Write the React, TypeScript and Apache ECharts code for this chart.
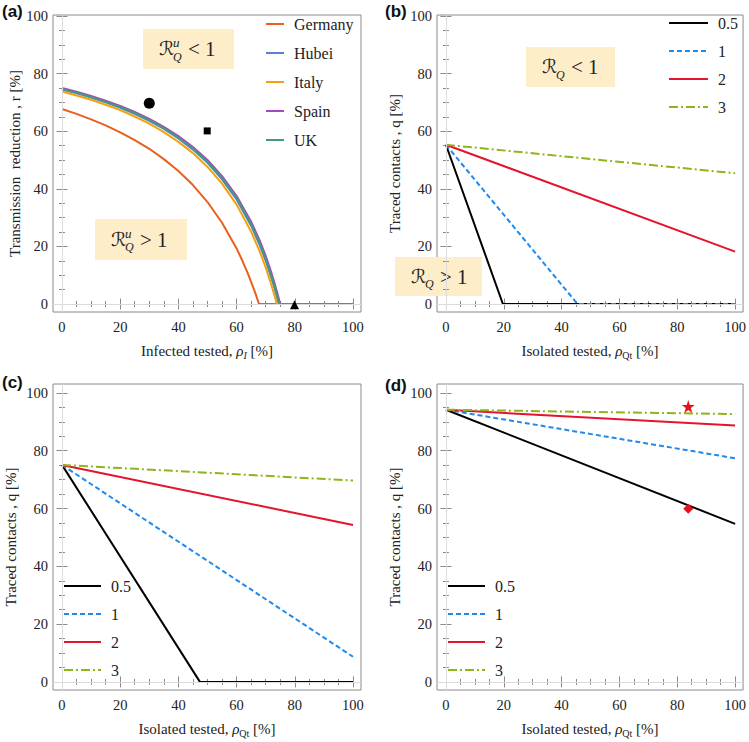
import React, { useEffect, useRef } from 'react';
import * as echarts from 'echarts';

// ---------- tick values ----------
const MAJOR = [0, 20, 40, 60, 80, 100];
const MINOR = [5, 10, 15, 25, 30, 35, 45, 50, 55, 65, 70, 75, 85, 90, 95];

// ---------- panel (a): transmission reduction vs infected tested ----------
const COUNTRIES = ['Germany', 'Hubei', 'Italy', 'Spain', 'UK'];
const germanyX = [0, 5, 10, 15, 20, 25, 30, 35, 40, 45, 50, 55, 60, 62, 64, 66, 67, 67.7, 100];
const germanyY = [67.7, 66.0, 64.1, 62.0, 59.6, 56.9, 53.9, 50.3, 46.2, 41.3, 35.4, 28.2, 19.3, 15.0, 10.3, 5.0, 2.1, 0, 0];
const hubeiX = [0, 5, 10, 15, 20, 25, 30, 35, 40, 45, 50, 55, 60, 65, 68, 70, 72, 73, 74, 74.5, 100];
const hubeiY = [74.5, 73.2, 71.7, 70.0, 68.1, 66.0, 63.6, 60.8, 57.5, 53.6, 49.0, 43.3, 36.3, 27.1, 20.3, 15.0, 8.9, 5.6, 1.9, 0, 0];
const italyX = [0, 5, 10, 15, 20, 25, 30, 35, 40, 45, 50, 55, 60, 65, 68, 70, 72, 73, 73.8, 100];
const italyY = [73.8, 72.4, 70.9, 69.2, 67.3, 65.1, 62.6, 59.7, 56.3, 52.4, 47.6, 41.8, 34.5, 25.1, 18.1, 12.7, 6.4, 3.0, 0, 0];
const spainX = [0, 5, 10, 15, 20, 25, 30, 35, 40, 45, 50, 55, 60, 65, 68, 70, 72, 73, 74, 75, 100];
const spainY = [75.0, 73.7, 72.2, 70.6, 68.8, 66.7, 64.3, 61.5, 58.3, 54.5, 50.0, 44.4, 37.5, 28.6, 21.9, 16.7, 10.7, 7.4, 3.8, 0, 0];
const ukX = [0, 5, 10, 15, 20, 25, 30, 35, 40, 45, 50, 55, 60, 65, 68, 70, 72, 73, 74, 74.7, 100];
const ukY = [74.7, 73.4, 71.9, 70.2, 68.4, 66.3, 63.9, 61.1, 57.8, 54.0, 49.4, 43.8, 36.8, 27.7, 20.9, 15.7, 9.6, 6.3, 2.7, 0, 0];
const markerCircle = [30, 69.7];
const markerSquare = [49.9, 60.1];
const markerTriangle = [79.9, -0.3];

// ---------- panels (b)-(d): traced contacts vs isolated tested ----------
const PARAMS = ['0.5', '1', '2', '3'];
const b05 = [[0, 55.3], [19.7, 0], [100, 0]];
const b1 = [[0, 55.3], [45.5, 0], [100, 0]];
const b2 = [[0, 55.3], [100, 18.2]];
const b3 = [[0, 55.3], [100, 45.4]];
const c05 = [[0, 75.1], [47.4, 0], [100, 0]];
const c1 = [[0, 75.1], [100, 8.7]];
const c2 = [[0, 75.1], [100, 54.3]];
const c3 = [[0, 75.1], [100, 69.7]];
const d05 = [[0, 94.2], [100, 54.7]];
const d1 = [[0, 94.2], [100, 77.4]];
const d2 = [[0, 94.2], [100, 88.7]];
const d3 = [[0, 94.2], [100, 92.7]];
const markerStar = [83.8, 95.3];
const markerDiamond = [83.8, 59.9];

// ---------- styling ----------
const SERIF = '"Liberation Serif", "Times New Roman", serif';
const SANS = '"Liberation Sans", Arial, sans-serif';
const SCRIPT = '"DejaVu Sans", "Noto Sans", sans-serif';
const INK = '#222';
const FRAME = '#8a8a8a';
const BOX = '#FDEDC9';
const COUNTRY_COLORS = ['#E8601C', '#5E7ED4', '#F2A20C', '#A848C0', '#449B7B'];
const PARAM_COLORS = ['#000000', '#1F8AEE', '#E4142C', '#8DB51C'];
const PARAM_DASH: any[] = ['solid', [5, 3], 'solid', [9, 3, 2, 3]];

const X_MIN = -3.09;
const X_MAX = 102.75;
const GRIDS = [
  { left: 53, top: 15, width: 308, height: 297, yMin: -2.78, yMax: 100.35, yGap: 29 },
  { left: 437, top: 15, width: 308, height: 297, yMin: -2.78, yMax: 100.35, yGap: 35 },
  { left: 53, top: 384, width: 308, height: 306, yMin: -2.8, yMax: 103.1, yGap: 35 },
  { left: 437, top: 384, width: 308, height: 306, yMin: -2.8, yMax: 103.1, yGap: 35 },
];

const zip = (xs: number[], ys: number[]) => xs.map((x, i) => [x, ys[i]]);

function sideAxes(gi: number, dim: 'x' | 'y', minV: number, maxV: number, name: string, nameGap: number, nameStyle: any) {
  const positions = dim === 'x' ? ['bottom', 'top'] : ['left', 'right'];
  const out: any[] = [];
  positions.forEach((pos, pi) => {
    [MAJOR, MINOR].forEach((vals, mi) => {
      const isMain = pi === 0 && mi === 0;
      out.push({
        type: 'value',
        gridIndex: gi,
        position: pos,
        min: minV,
        max: maxV,
        splitLine: { show: false },
        axisLine: { show: false },
        axisTick: {
          show: true,
          inside: true,
          length: mi === 0 ? 5.5 : 3,
          customValues: vals,
          lineStyle: { color: FRAME, width: 1 },
        },
        axisLabel: isMain
          ? {
              show: true,
              customValues: MAJOR,
              margin: dim === 'x' ? 7 : 5,
              fontFamily: SERIF,
              fontSize: 14.5,
              color: INK,
            }
          : { show: false },
        name: isMain ? name : '',
        nameLocation: 'middle',
        nameGap,
        nameTextStyle: nameStyle,
      });
    });
  });
  return out;
}

const xNameStyle = {
  fontFamily: SERIF,
  fontSize: 15,
  color: INK,
  lineHeight: 18,
  rich: {
    g: { fontFamily: SERIF, fontSize: 15, fontStyle: 'italic', color: INK, lineHeight: 18 },
    s: { fontFamily: SERIF, fontSize: 10, color: INK, lineHeight: 8, verticalAlign: 'bottom' },
    si: { fontFamily: SERIF, fontSize: 10, fontStyle: 'italic', color: INK, lineHeight: 8, verticalAlign: 'bottom' },
  },
};
const yNameStyle = { fontFamily: SERIF, fontSize: 15, color: INK };

function rBox(left: number, top: number, w: number, h: number, withU: boolean, op: string) {
  const cy = top + h / 2;
  const x0 = left + 16;
  const kids: any[] = [
    { type: 'rect', shape: { x: left, y: top, width: w, height: h }, style: { fill: BOX } },
    {
      type: 'text',
      x: x0,
      y: cy - 1,
      style: { text: '\u211B', fontFamily: SCRIPT, fontSize: 19, fill: INK, align: 'left', verticalAlign: 'middle' },
    },
    {
      type: 'text',
      x: x0 + 14,
      y: cy + 7.5,
      style: { text: 'Q', fontFamily: SERIF, fontStyle: 'italic', fontSize: 12, fill: INK, align: 'left', verticalAlign: 'middle' },
    },
  ];
  if (withU) {
    kids.push({
      type: 'text',
      x: x0 + 14,
      y: cy - 6.5,
      style: { text: 'u', fontFamily: SERIF, fontStyle: 'italic', fontSize: 13, fill: INK, align: 'left', verticalAlign: 'middle' },
    });
  }
  kids.push({
    type: 'text',
    x: x0 + 29,
    y: cy,
    style: { text: op + ' 1', fontFamily: SERIF, fontSize: 21, fill: INK, align: 'left', verticalAlign: 'middle' },
  });
  return { type: 'group', z: 50, children: kids };
}

function panelLabel(text: string, x: number, y: number) {
  return {
    type: 'text',
    x,
    y,
    z: 50,
    style: { text, fontFamily: SANS, fontWeight: 'bold', fontSize: 17, fill: '#111', align: 'left', verticalAlign: 'top' },
  };
}

const STAR = 'path://M50,0 L61.8,35.1 L98.9,35.1 L68.9,56.9 L80.2,92.1 L50,70.4 L19.8,92.1 L31.1,56.9 L1.1,35.1 L38.2,35.1 Z';

function buildOption() {
  const xAxes: any[] = [];
  const yAxes: any[] = [];
  const xNames = [
    'Infected tested, {g|\u03C1}{si|I} [%]',
    'Isolated tested, {g|\u03C1}{s|Qt} [%]',
    'Isolated tested, {g|\u03C1}{s|Qt} [%]',
    'Isolated tested, {g|\u03C1}{s|Qt} [%]',
  ];
  const yNames = [
    'Transmission  reduction , r [%]',
    'Traced contacts , q [%]',
    'Traced contacts , q [%]',
    'Traced contacts , q [%]',
  ];
  GRIDS.forEach((g, gi) => {
    xAxes.push(...sideAxes(gi, 'x', X_MIN, X_MAX, xNames[gi], 30, xNameStyle));
    yAxes.push(...sideAxes(gi, 'y', g.yMin, g.yMax, yNames[gi], g.yGap, yNameStyle));
  });

  const series: any[] = [];
  // light grey coordinate axes at x = 0 and y = 0
  GRIDS.forEach((_g, gi) => {
    series.push({
      type: 'line',
      name: 'axes' + gi,
      xAxisIndex: 4 * gi,
      yAxisIndex: 4 * gi,
      data: [],
      symbol: 'none',
      silent: true,
      z: 1,
      markLine: {
        silent: true,
        symbol: 'none',
        label: { show: false },
        lineStyle: { color: '#dcdcdc', width: 1, type: 'solid' },
        data: [{ xAxis: 0 }, { yAxis: 0 }],
      },
    });
  });

  const countryData = [
    zip(germanyX, germanyY),
    zip(hubeiX, hubeiY),
    zip(italyX, italyY),
    zip(spainX, spainY),
    zip(ukX, ukY),
  ];
  COUNTRIES.forEach((c, i) => {
    series.push({
      type: 'line',
      name: c,
      xAxisIndex: 0,
      yAxisIndex: 0,
      data: countryData[i],
      symbol: 'none',
      color: COUNTRY_COLORS[i],
      lineStyle: { color: COUNTRY_COLORS[i], width: 2 },
      z: 3,
    });
  });
  const scatterBase = { type: 'scatter', silent: true, z: 5, itemStyle: { color: '#000', opacity: 1 } };
  series.push({ ...scatterBase, name: 'circle', xAxisIndex: 0, yAxisIndex: 0, symbol: 'circle', symbolSize: 11, data: [markerCircle] });
  series.push({ ...scatterBase, name: 'square', xAxisIndex: 0, yAxisIndex: 0, symbol: 'rect', symbolSize: 7, data: [markerSquare] });
  series.push({ ...scatterBase, name: 'triangle', xAxisIndex: 0, yAxisIndex: 0, symbol: 'triangle', symbolSize: 9, data: [markerTriangle] });

  const paramData = [
    [b05, b1, b2, b3],
    [c05, c1, c2, c3],
    [d05, d1, d2, d3],
  ];
  paramData.forEach((set, si) => {
    const gi = si + 1;
    set.forEach((d, i) => {
      series.push({
        type: 'line',
        name: PARAMS[i],
        xAxisIndex: 4 * gi,
        yAxisIndex: 4 * gi,
        data: d,
        symbol: 'none',
        color: PARAM_COLORS[i],
        lineStyle: { color: PARAM_COLORS[i], width: 2, type: PARAM_DASH[i] },
        z: 3,
      });
    });
  });
  series.push({ type: 'scatter', silent: true, z: 5, name: 'star', xAxisIndex: 12, yAxisIndex: 12, symbol: STAR, symbolSize: 13, itemStyle: { color: '#E8101F', opacity: 1 }, data: [markerStar] });
  series.push({ type: 'scatter', silent: true, z: 5, name: 'diamond', xAxisIndex: 12, yAxisIndex: 12, symbol: 'diamond', symbolSize: 10, itemStyle: { color: '#E8101F', opacity: 1 }, data: [markerDiamond] });

  const legendText = { fontFamily: SERIF, fontSize: 16, color: INK, lineHeight: 16, padding: [0, 0, 0, 5] };
  const legendBase = {
    orient: 'vertical',
    itemHeight: 14,
    padding: 0,
    selectedMode: false,
    itemStyle: { opacity: 0 },
    textStyle: legendText,
  };

  return {
    animation: false,
    backgroundColor: '#ffffff',
    grid: GRIDS.map((g) => ({
      left: g.left,
      top: g.top,
      width: g.width,
      height: g.height,
      show: true,
      borderColor: FRAME,
      borderWidth: 1,
      backgroundColor: 'transparent',
      containLabel: false,
    })),
    xAxis: xAxes,
    yAxis: yAxes,
    legend: [
      { ...legendBase, data: COUNTRIES, left: 265, top: 16, itemWidth: 18, itemGap: 13 },
      { ...legendBase, data: PARAMS, left: 668, top: 15, itemWidth: 39, itemGap: 12 },
      { ...legendBase, data: PARAMS, left: 63, top: 578, itemWidth: 37, itemGap: 12 },
      { ...legendBase, data: PARAMS, left: 447, top: 578, itemWidth: 37, itemGap: 12 },
    ],
    graphic: [
      panelLabel('(a)', 2, 3),
      panelLabel('(b)', 385, 3),
      panelLabel('(c)', 2, 374),
      panelLabel('(d)', 385, 377),
      rBox(143, 29, 91, 40, true, '<'),
      rBox(95, 219, 92, 41, true, '>'),
      rBox(526, 47, 89, 40, false, '<'),
      rBox(395, 257, 87, 39, false, '>'),
    ],
    series,
  };
}

export default function App() {
  const ref = useRef<HTMLDivElement>(null);
  useEffect(() => {
    if (!ref.current) return;
    const chart = echarts.init(ref.current, undefined, { renderer: 'svg' });
    chart.setOption(buildOption() as any);
    return () => chart.dispose();
  }, []);
  return (
    <div
      ref={ref}
      style={{ position: 'absolute', left: 0, top: 0, width: 749, height: 742, background: '#fff' }}
    />
  );
}
